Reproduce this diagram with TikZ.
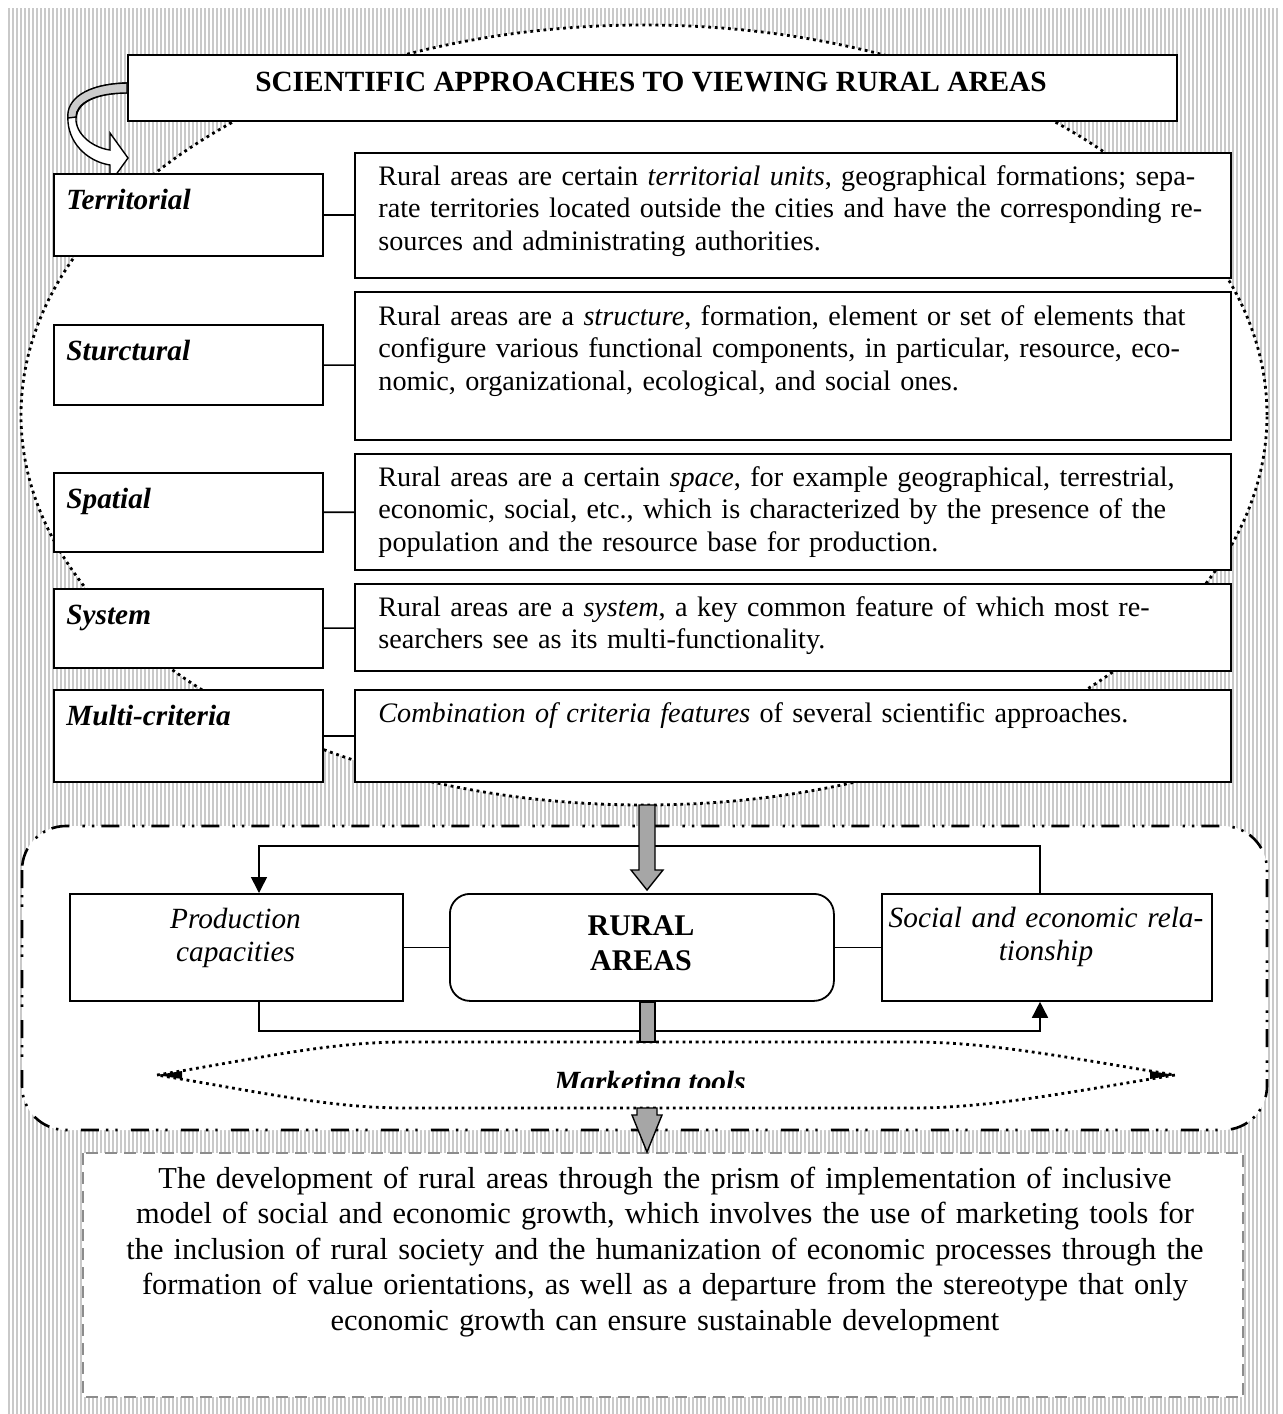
\documentclass[tikz,border=0pt]{standalone}
\usepackage{fontspec}
\setmainfont{Liberation Serif}
\usetikzlibrary{arrows.meta}
\begin{document}
\begin{tikzpicture}[x=0.5pt,y=-0.5pt,
  stripe/.style={fill=gray!42},
  box/.style={draw, line width=0.9pt, fill=white, inner sep=0pt, anchor=north west},
  conn/.style={line width=0.8pt},
  tip/.style={-{Triangle[length=8pt,width=8pt]}},
  lbl/.style={font=\fontsize{14.65}{16}\selectfont\bfseries\itshape, anchor=base west, inner sep=0pt},
  desc/.style={font=\fontsize{14.1}{16.3}\selectfont, text width=424pt, align=left, anchor=base west, inner sep=0pt},
  ctext/.style={font=\fontsize{14.65}{16.5}\selectfont\itshape, text width=166pt, align=center, anchor=base, inner sep=0pt},
  dotline/.style={line width=1.4pt, dash pattern=on 1.4pt off 1.9pt},
  dashdotdot/.style={line width=1.3pt, dash pattern=on 9pt off 3.5pt on 1.2pt off 3.5pt on 1.2pt off 6.6pt},
  grayarrow/.style={fill=gray!70, draw=black, line width=0.7pt, line join=miter}
]
\useasboundingbox (0,0) rectangle (1282,1414);
\fill[white] (0,0) rectangle (1282,1414);
% striped background
\foreach \i in {0,...,317} \fill[stripe] ({8+4*\i},8) rectangle ++(2,1406);

% large dotted ellipse
\fill[white] (644,415) ellipse [x radius=311.5pt, y radius=195pt];
\draw[dotline] (644,415) ellipse [x radius=311.5pt, y radius=195pt];

% middle rounded dash-dot frame
\draw[dashdotdot, fill=white, rounded corners=22pt] (22,826) rectangle (1267,1130);

% bottom dashed frame
\draw[draw=gray!90, line width=1pt, dash pattern=on 6pt off 3.5pt, fill=white] (83,1153) rectangle (1243,1397);

% title
\node[box, minimum width=524.5pt, minimum height=33pt] (title) at (127,54) {};
\node[font=\fontsize{14.65}{16}\selectfont\bfseries, anchor=base, inner sep=0pt] (titletext) at (651,91) {SCIENTIFIC APPROACHES TO VIEWING RURAL AREAS};

% curved block arrow
\filldraw[fill=white, line width=0.7pt, line join=miter]
  (127,83) .. controls (85,84) and (66,100) .. (68,122)
  .. controls (70,146) and (90,162) .. (110,165)
  -- (110,183) -- (128,158) -- (110,133) -- (110,150)
  .. controls (95,148) and (78,137) .. (76,121)
  .. controls (75,103) and (95,93) .. (127,93) -- cycle;
\filldraw[fill=gray!40, line width=0.7pt]
  (127,83) .. controls (85,84) and (66,100) .. (68,118)
  -- (76,117) .. controls (76,103) and (95,93) .. (127,93) -- cycle;

% left boxes
\node[box, minimum width=134.5pt, minimum height=41pt] (lT) at (53,173) {};
\node[box, minimum width=134.5pt, minimum height=40pt] (lS) at (53,324) {};
\node[box, minimum width=134.5pt, minimum height=39.5pt] (lSp) at (53,472) {};
\node[box, minimum width=134.5pt, minimum height=39.5pt] (lSy) at (53,588) {};
\node[box, minimum width=134.5pt, minimum height=46pt] (lM) at (53,689) {};
\node[lbl] (tT) at (66,209) {Territorial};
\node[lbl] (tS) at (66,360) {Sturctural};
\node[lbl] (tSp) at (66,508) {Spatial};
\node[lbl] (tSy) at (66,624) {System};
\node[lbl] (tM) at (66,725) {Multi-criteria};

% right boxes
\node[box, minimum width=438pt, minimum height=62.5pt] (rT) at (354,152) {};
\node[box, minimum width=438pt, minimum height=74pt] (rS) at (354,291) {};
\node[box, minimum width=438pt, minimum height=58pt] (rSp) at (354,453) {};
\node[box, minimum width=438pt, minimum height=43.5pt] (rSy) at (354,583) {};
\node[box, minimum width=438pt, minimum height=46pt] (rM) at (354,689) {};
\node[desc] (dT) at (378,185) {Rural areas are certain \textit{territorial units}, geographical formations; sepa-\\rate territories located outside the cities and have the corresponding re-\\sources and administrating authorities.};
\node[desc] (dS) at (378,325) {Rural areas are a \textit{structure}, formation, element or set of elements that\\configure various functional components, in particular, resource, eco-\\nomic, organizational, ecological, and social ones.};
\node[desc] (dSp) at (378,486) {Rural areas are a certain \textit{space}, for example geographical, terrestrial,\\economic, social, etc., which is characterized by the presence of the\\population and the resource base for production.};
\node[desc] (dSy) at (378,616) {Rural areas are a \textit{system}, a key common feature of which most re-\\searchers see as its multi-functionality.};
\node[desc] (dM) at (378,722) {\textit{Combination of criteria features} of several scientific approaches.};

% connectors
\draw[conn] (lT) -- (rT);
\draw[conn] (lS) -- (rS);
\draw[conn] (lSp) -- (rSp);
\draw[conn] (lSy) -- (rSy);
\draw[conn] (lM) -- (rM);

% middle section
\node[box, minimum width=166.5pt, minimum height=53.5pt] (prod) at (69,893) {};
\node[box, minimum width=192pt, minimum height=53.5pt, rounded corners=10pt] (rural) at (449,893) {};
\node[box, minimum width=165pt, minimum height=53.5pt] (social) at (881,893) {};
\node[ctext] (prodtext) at (235.5,928) {Production\\capacities};
\node[ctext] (socialtext) at (1046,927) {Social and economic rela-\\tionship};
\node[font=\fontsize{15}{17.5}\selectfont\bfseries, text width=150pt, align=center, anchor=base, inner sep=0pt] (ruraltext) at (641,935) {RURAL\\AREAS};

\draw[conn] (prod) -- (rural);
\draw[conn] (rural) -- (social);

\coordinate (xr) at (1040,0);
\coordinate (xl) at (259,0);
\draw[conn, tip] (social.north -| xr) -- ++(0,-47) -| (prod.north -| xl);
\draw[conn, tip] (prod.south -| xl) -- ++(0,29) -| (social.south -| xr);

% marketing tools shape
\draw[dotline]
  (157,1075) .. controls (260,1058) and (330,1042) .. (405,1042)
  -- (913,1042) .. controls (990,1042) and (1070,1058) .. (1175,1075)
  .. controls (1070,1092) and (990,1108) .. (913,1108)
  -- (405,1108) .. controls (330,1108) and (260,1092) .. (157,1075);
\fill (1150,1071) -- (1175,1075) -- (1150,1079) -- cycle;
\fill (182,1071) -- (157,1075) -- (182,1079) -- cycle;
\begin{scope}
  \clip (400,1050) rectangle (900,1087);
  \node[font=\fontsize{14.65}{16}\selectfont\bfseries\itshape, anchor=base, inner sep=0pt] (mt) at (650,1091) {Marketing tools};
\end{scope}

% gray block arrows
\filldraw[grayarrow] (639,805) -- (655,805) -- (655,870) -- (663,870) -- (647,890) -- (631,870) -- (639,870) -- cycle;
\filldraw[grayarrow] (rural.south -| 640,0) -- (rural.south -| 655,0) -- (655,1042) -- (640,1042) -- cycle;
\filldraw[grayarrow] (637,1108) -- (657,1108) -- (657,1115) -- (662,1115) -- (647,1152) -- (632,1115) -- (637,1115) -- cycle;

% bottom text
\node[font=\fontsize{15.2}{17.75}\selectfont, text width=570pt, align=center, anchor=base, inner sep=0pt] (bottomtext) at (665,1188) {The development of rural areas through the prism of implementation of inclusive\\ model of social and economic growth, which involves the use of marketing tools for\\ the inclusion of rural society and the humanization of economic processes through the\\ formation of value orientations, as well as a departure from the stereotype that only\\ economic growth can ensure sustainable development};
\end{tikzpicture}
\end{document}
